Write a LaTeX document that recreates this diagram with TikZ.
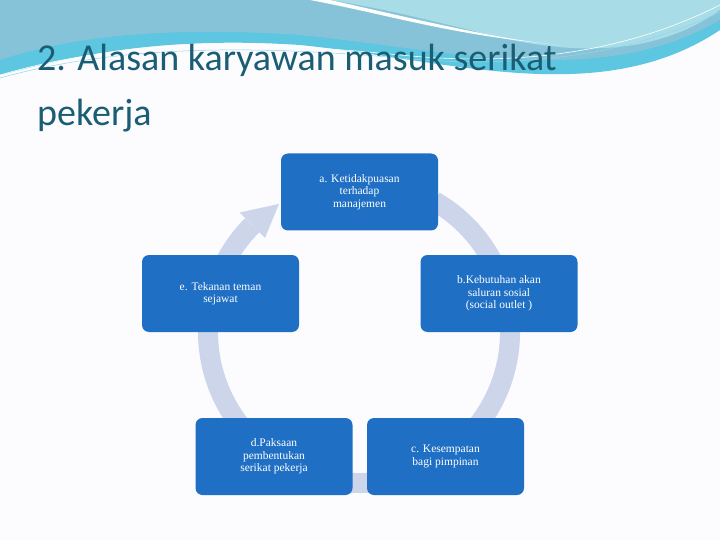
\documentclass[tikz,border=0pt]{standalone}
\usepackage{fontspec}
\setmainfont{Liberation Serif}
\newfontfamily\titlefont{Carlito}
\definecolor{boxblue}{HTML}{1F6FC4}
\definecolor{ringc}{HTML}{CDD5EA}
\definecolor{titlec}{HTML}{1B5E74}
\definecolor{waveA}{HTML}{86C3D8}
\definecolor{waveB}{HTML}{A8DDE8}
\definecolor{waveC}{HTML}{5DC6E0}
\begin{document}
\begin{tikzpicture}[x=1pt,y=-1pt,
  box/.style={fill=boxblue,rounded corners=7pt,minimum width=157pt,minimum height=77pt,text=white,align=center,font=\fontsize{11.5}{12.5}\selectfont,inner sep=2pt},
  ring/.style={draw=ringc,line width=20pt}]
\useasboundingbox (0,0) rectangle (720,540);
\fill[white!96!blue!30] (0,0) rectangle (720,540);
% top waves
\fill[waveC] (0,0) -- (720,0) -- (720,30) .. controls (600,110) and (450,60) .. (300,45) .. controls (150,35) and (60,60) .. (0,75) -- cycle;
\fill[waveA] (0,0) -- (720,0) -- (720,20) .. controls (600,90) and (450,50) .. (300,35) .. controls (150,25) and (60,40) .. (0,60) -- cycle;
\fill[waveB] (330,0) -- (720,0) -- (720,10) .. controls (650,60) and (560,55) .. (470,30) .. controls (420,18) and (380,8) .. (330,0) -- cycle;
\fill[white] (310,0) .. controls (390,15) and (450,35) .. (560,45) .. controls (500,40) and (420,20) .. (330,0) -- cycle;
\draw[white,line width=0.6pt] (0,75) .. controls (120,40) and (250,40) .. (400,55) .. controls (550,70) and (650,40) .. (720,5);
\draw[waveC!70!white,line width=0.5pt] (0,78) .. controls (120,45) and (250,45) .. (400,58) .. controls (550,72) and (650,45) .. (720,12);
% title
\node[anchor=north west,inner sep=0pt,text=titlec,font=\titlefont\fontsize{38}{55}\selectfont,align=left] (title) at (37,44) {2. Alasan karyawan masuk serikat\\pekerja};
% ring
\coordinate (c) at (359,332);
\draw[ring] ([shift={(-60:151)}]c) arc[start angle=-60,end angle=225,radius=151];
\fill[ringc] ([shift={(225:133)}]c) -- ([shift={(225:169)}]c) -- ([shift={(238:151)}]c) -- cycle;
% boxes
\node[box] (a) at (359.5,192) {a. Ketidakpuasan\\terhadap\\manajemen};
\node[box] (b) at (499,293.5) {b.Kebutuhan akan\\saluran sosial\\(social outlet )};
\node[box] (e) at (220.5,293.5) {e. Tekanan teman\\sejawat};
\node[box] (d) at (274,456.5) {d.Paksaan\\pembentukan\\serikat pekerja};
\node[box] (cc) at (445.5,456.5) {c. Kesempatan\\bagi pimpinan};
\end{tikzpicture}
\end{document}
